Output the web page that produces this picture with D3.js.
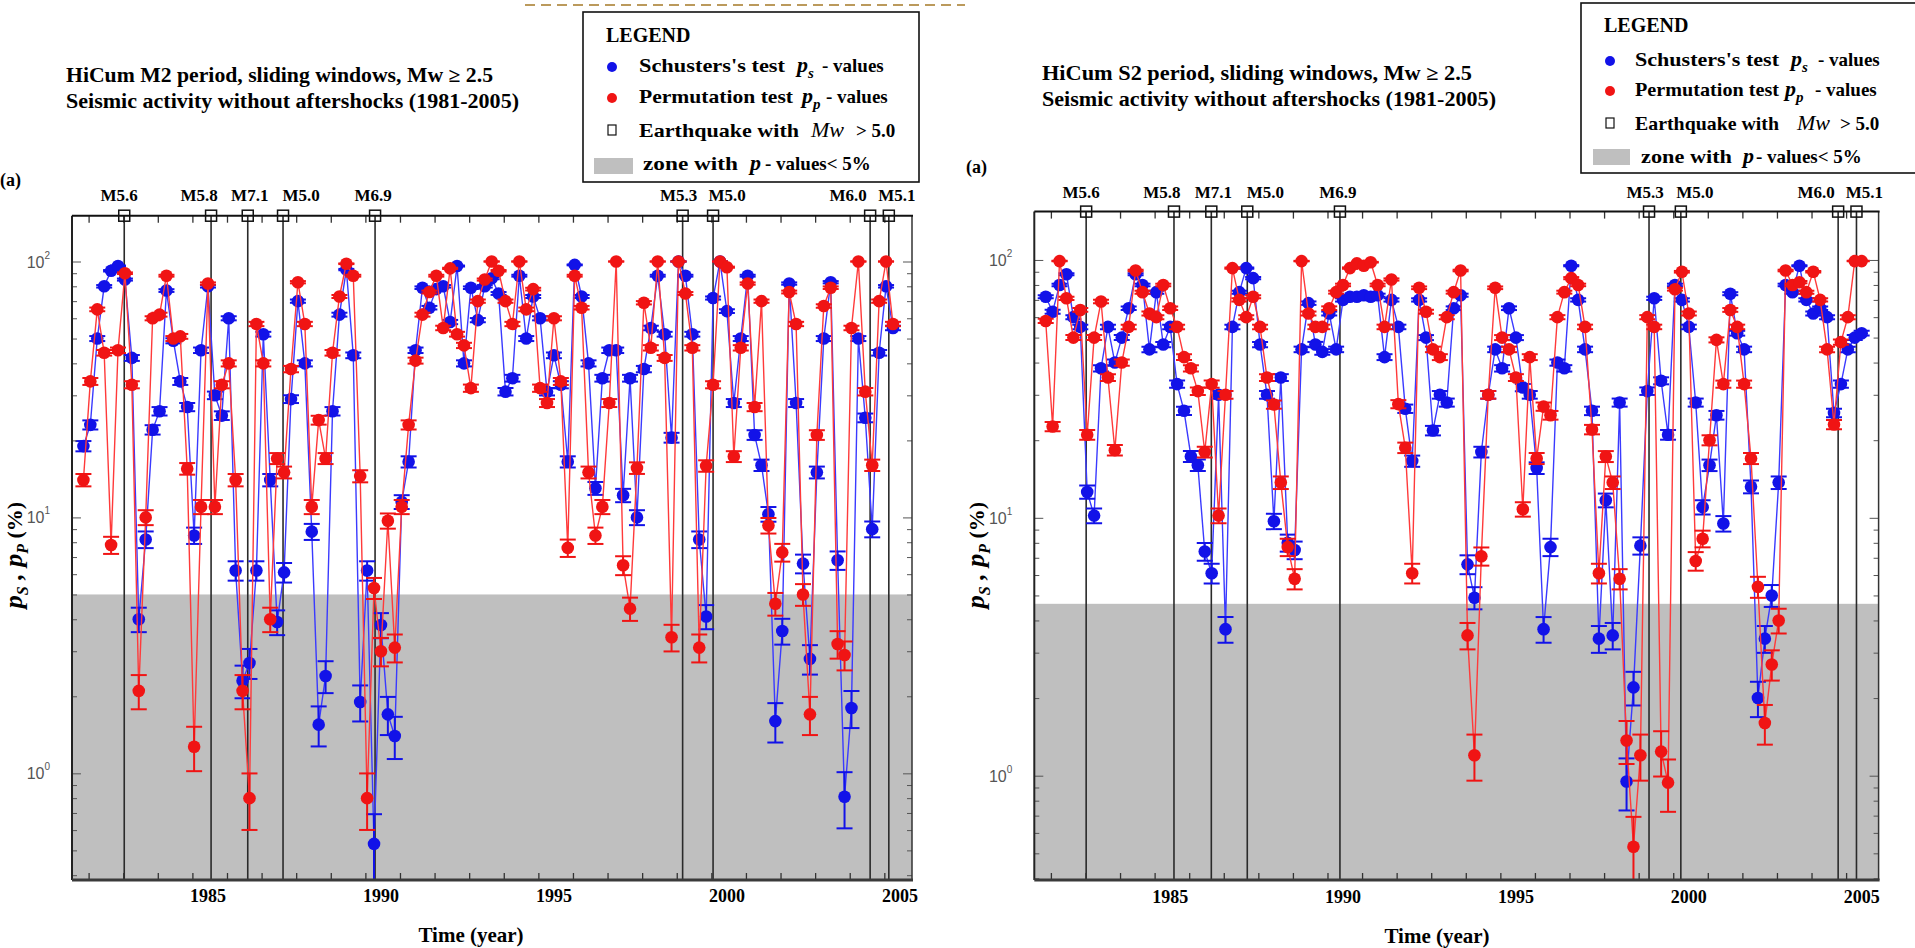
<!DOCTYPE html>
<html>
<head>
<meta charset="utf-8">
<script src="https://cdn.jsdelivr.net/npm/d3@7"></script>
<style>
  body { margin: 0; background: #fff; }
  svg { display: block; }
  .serif { font-family: "Liberation Serif", "Times New Roman", serif; font-weight: bold; }
  .sans { font-family: "Liberation Sans", Arial, sans-serif; }
</style>
</head>
<body>
<svg id="chart" width="1915" height="948"></svg>
<script>
// ---------------------------------------------------------------- DATA
// centre of each sliding window (year)
const windowYears = [
  1981.4,1981.6,1981.8,1982.0,1982.2,1982.4,1982.6,1982.8,1983.0,1983.2,1983.4,1983.6,1983.8,1984.0,1984.2,1984.4,1984.6,1984.8,
  1985.0,1985.2,1985.4,1985.6,1985.8,1986.0,1986.2,1986.4,1986.6,1986.8,1987.0,1987.2,1987.4,1987.6,1987.8,1988.0,1988.2,1988.4,
  1988.6,1988.8,1989.0,1989.2,1989.4,1989.6,1989.8,1990.0,1990.2,1990.4,1990.6,1990.8,1991.0,1991.2,1991.4,1991.6,1991.8,1992.0,
  1992.2,1992.4,1992.6,1992.8,1993.0,1993.2,1993.4,1993.6,1993.8,1994.0,1994.2,1994.4,1994.6,1994.8,1995.0,1995.2,1995.4,1995.6,
  1995.8,1996.0,1996.2,1996.4,1996.6,1996.8,1997.0,1997.2,1997.4,1997.6,1997.8,1998.0,1998.2,1998.4,1998.6,1998.8,1999.0,1999.2,
  1999.4,1999.6,1999.8,2000.0,2000.2,2000.4,2000.6,2000.8,2001.0,2001.2,2001.4,2001.6,2001.8,2002.0,2002.2,2002.4,2002.6,2002.8,
  2003.0,2003.2,2003.4,2003.6,2003.8,2004.0,2004.2,2004.4,2004.6,2004.8,2005.0
];

// HiCum M2 period (%)
const m2Schuster = [
  19,23,50,80,92,96,85,42,4.0,8.2,22,26,77,49,34,27,8.5,45,
  80,30,25,60,6.2,2.3,2.7,6.2,52,14,3.9,6.1,29,70,40,8.8,1.55,2.4,
  26,62,93,43,1.9,6.2,0.53,3.8,1.7,1.4,11.5,16.5,45,79,66,78,80,58,
  96,40,79,59,80,86,75,31,35,88,50,73,60,31,43,33,16.5,97,
  73,40,13,35,45,45,12.2,35,10,38,55,88,52,20.5,100,88,52,8.2,
  4.1,72,100,64,28,50,88,21,16,10.3,1.6,3.6,82,28,6.6,2.8,15,50,
  83,6.8,0.81,1.8,50,24.5,9,44,80,55
];
const m2Permutation = [
  14,34,65,44,7.8,45,90,33,2.1,10,60,62,88,50,51,15.5,1.27,11,
  82,11,33,40,14,2.1,0.8,57,40,4.0,17,15,38,83,57,11,24,17,
  44,73,98,88,14.5,0.8,5.3,3.0,9.7,3.1,11,23,41,62,76,88,55,94,
  52,47,32,70,85,100,92,70,57,100,65,78,32,28,60,34,7.6,88,
  66,15,8.5,11,28,100,6.5,4.4,15.6,69,46,100,42,3.4,100,75,46,3.1,
  15.9,33,100,95,17.3,46,82,27,70,9.3,4.6,7.3,76,57,5,1.7,21,67,
  79,3.2,2.9,55,100,31,16,70,100,57
];

// HiCum S2 period (%)
const s2Schuster = [
  72,63,80,88,60,55,12.6,10.2,38,55,40,50,65,88,80,45,75,47,
  55,33,26,17.3,16,7.4,6.1,30,3.7,55,75,93,85,47,30,9.7,35,8,
  7.5,45,68,47,44,62,45,70,72,72,73,72,73,42,70,55,26.5,16.6,
  70,50,21.8,30,28,65,73,6.6,4.9,18,30,45,38,65,50,32,30,15.6,
  3.7,7.7,40,38,95,70,45,26,3.4,11.7,3.5,28,0.95,2.2,7.8,31,71,34,
  21,80,70,55,28,11,16,25,9.5,74,52,45,13.2,2.0,3.4,5.0,13.7,80,
  75,95,70,62,65,60,25.5,33,45,50,52
];
const s2Permutation = [
  58,22.6,99,71,50,64,21,50,69,35,18.3,40,55,91,75,62,60,80,
  65,55,42,38,31,18,33,10.2,30,93,70,60,72,55,35,27.5,13.7,7.7,
  5.8,99,62,55,55,65,75,80,93,97,95,98,80,55,84,27.6,18.7,6.1,
  78,63,45,42,60,75,91,3.5,1.2,7.1,30,78,50,45,35,10.8,42,17,
  27,25,60,75,85,80,55,22,6.1,17.3,13.7,5.8,1.37,0.53,1.2,60,55,1.24,
  0.94,77,90,62,6.8,8.3,20,49,33,64,55,33,17,5.4,1.6,2.7,4.0,91,
  80,82,75,90,70,45,23,48,60,99,99
];

// earthquakes with Mw > 5.0
const quakeLabels = ["M5.6", "M5.8", "M7.1", "M5.0", "M6.9", "M5.3", "M5.0", "M6.0", "M5.1"];
const m2QuakeYears = [1982.58, 1985.09, 1986.15, 1987.17, 1989.83, 1998.72, 1999.60, 2004.14, 2004.68];
const s2QuakeYears = [1982.57, 1985.11, 1986.19, 1987.23, 1989.91, 1998.85, 1999.77, 2004.32, 2004.85];

const yearLabels = [1985, 1990, 1995, 2000, 2005];
const decadeLabels = [1, 10, 100];
const simulations = 2000;   // number of random trials behind each p-value (error bars)

// ---------------------------------------------------------------- LAYOUT
const labelNudge = [-5, -12, 2, 18, -2, -4, 14, -22, 8];
const blue = "#1212e8", red = "#f01414";
const svg = d3.select("#chart");

const panels = [
  {
    schuster: m2Schuster, perm: m2Permutation, quakes: m2QuakeYears, sig: 5,
    left: 72, right: 912, top: 215.7, bottom: 880,
    xDomain: [1981.07, 2005.35], yDomain: [0.383, 151],
    title: ["HiCum M2 period, sliding windows, Mw \u2265 2.5", "Seismic activity without aftershocks (1981-2005)"],
    titleX: 66, titleY: [82, 108], titleW: [427, 453],
    tagX: 0, tagY: 186, quakeLabelY: 201, yTitleX: 22, yearY: 902, xTitleX: 471, xTitleY: 942,
    legend: {
      box: [583, 12, 336, 170], head: [606, 42],
      rows: [72, 103, 137, 170], mark: 612,
      text: 639, textW: [146, 154, 160], sym: [797, 802, 811], symEnd: [822, 826, 856],
      zone: [594, 158, 39, 16], zoneText: 643, zoneW: 95, zoneP: 750, zoneTail: 765
    }
  },
  {
    schuster: s2Schuster, perm: s2Permutation, quakes: s2QuakeYears, sig: 4.64,
    left: 1034.3, right: 1878.6, top: 211.6, bottom: 880,
    xDomain: [1981.07, 2005.49], yDomain: [0.394, 154],
    title: ["HiCum  S2 period, sliding windows, Mw \u2265 2.5", "Seismic activity without aftershocks (1981-2005)"],
    titleX: 1042, titleY: [80, 106], titleW: [430, 454],
    tagX: 966, tagY: 173, quakeLabelY: 198, yTitleX: 984, yearY: 903, xTitleX: 1437, xTitleY: 943,
    legend: {
      box: [1581, 3, 345, 170], head: [1604, 32],
      rows: [66, 96, 130, 163], mark: 1610,
      text: 1635, textW: [144, 144, 144], sym: [1791, 1785, 1797], symEnd: [1818, 1815, 1840],
      zone: [1593, 149, 37, 16], zoneText: 1641, zoneW: 91, zoneP: 1743, zoneTail: 1756
    }
  }
];

// dashed rule at the very top of the page
svg.append("line")
  .attr("x1", 525).attr("x2", 965).attr("y1", 5).attr("y2", 5)
  .attr("stroke", "#bb9a5c").attr("stroke-width", 2).attr("stroke-dasharray", "10,6");

panels.forEach((p, i) => drawPanel(p, i));

// ---------------------------------------------------------------- PANEL
function drawPanel(p, idx) {
  const x = d3.scaleLinear().domain(p.xDomain).range([p.left, p.right]);
  const y = d3.scaleLog().domain(p.yDomain).range([p.bottom, p.top]);
  const g = svg.append("g");

  // zone with p-values < 5%
  g.append("rect")
    .attr("x", p.left).attr("y", y(p.sig))
    .attr("width", p.right - p.left).attr("height", p.bottom - y(p.sig))
    .attr("fill", "#bfbfbf");

  g.append("clipPath").attr("id", "clip" + idx)
    .append("rect")
    .attr("x", p.left).attr("y", p.top)
    .attr("width", p.right - p.left).attr("height", p.bottom - p.top);

  // earthquake lines
  g.append("g").selectAll("line")
    .data(p.quakes)
    .join("line")
    .attr("x1", d => x(d)).attr("x2", d => x(d))
    .attr("y1", p.top).attr("y2", p.bottom)
    .attr("stroke", "#2a2a2a").attr("stroke-width", 1.6);

  const plot = g.append("g").attr("clip-path", `url(#clip${idx})`);
  drawSeries(plot, p.schuster, x, y, blue, "#3a3aff");
  drawSeries(plot, p.perm, x, y, red, "#ff3a3a");

  // inward year ticks on top and bottom
  const tickYears = d3.range(1981.55, p.xDomain[1], 1);
  g.append("g").attr("transform", `translate(0,${p.bottom})`)
    .call(d3.axisBottom(x).tickValues(tickYears).tickSize(-7).tickFormat(""))
    .call(a => a.select(".domain").remove())
    .call(a => a.selectAll("line").attr("stroke", "#333").attr("stroke-width", 1.3));
  g.append("g").attr("transform", `translate(0,${p.top})`)
    .call(d3.axisTop(x).tickValues(tickYears).tickSize(-7).tickFormat(""))
    .call(a => a.select(".domain").remove())
    .call(a => a.selectAll("line").attr("stroke", "#333").attr("stroke-width", 1.3));

  // log ticks on both sides
  const minor = [];
  [-1, 0, 1, 2].forEach(e => d3.range(2, 10).forEach(k => {
    const v = k * Math.pow(10, e);
    if (v > p.yDomain[0] && v < p.yDomain[1]) minor.push(v);
  }));
  [[d3.axisRight, p.left], [d3.axisLeft, p.right]].forEach(([ax, pos]) => {
    g.append("g").attr("transform", `translate(${pos},0)`)
      .call(ax(y).tickValues(minor).tickSize(5).tickFormat(""))
      .call(a => a.select(".domain").remove())
      .call(a => a.selectAll("line").attr("stroke", "#555"));
    g.append("g").attr("transform", `translate(${pos},0)`)
      .call(ax(y).tickValues(decadeLabels).tickSize(9).tickFormat(""))
      .call(a => a.select(".domain").remove())
      .call(a => a.selectAll("line").attr("stroke", "#555"));
  });

  // frame
  g.append("line").attr("x1", p.right).attr("x2", p.right).attr("y1", p.top).attr("y2", p.bottom)
    .attr("stroke", "#333").attr("stroke-width", 1.5);
  g.append("line").attr("x1", p.left).attr("x2", p.left).attr("y1", p.top).attr("y2", p.bottom)
    .attr("stroke", "#222").attr("stroke-width", 2);
  g.append("line").attr("x1", p.left).attr("x2", p.right + 1).attr("y1", p.top).attr("y2", p.top)
    .attr("stroke", "#111").attr("stroke-width", 2);
  g.append("line").attr("x1", p.left).attr("x2", p.right + 1).attr("y1", p.bottom).attr("y2", p.bottom)
    .attr("stroke", "#3a3a3a").attr("stroke-width", 3);

  // earthquake squares and labels
  g.append("g").selectAll("rect")
    .data(p.quakes)
    .join("rect")
    .attr("x", d => x(d) - 5.5).attr("y", p.top - 5.5)
    .attr("width", 11).attr("height", 11)
    .attr("fill", "none").attr("stroke", "#111").attr("stroke-width", 1.5);
  g.append("g").selectAll("text")
    .data(p.quakes)
    .join("text")
    .attr("class", "serif")
    .attr("x", (d, i) => x(d) + labelNudge[i]).attr("y", p.quakeLabelY)
    .attr("text-anchor", "middle")
    .style("font-size", "17px")
    .text((d, i) => quakeLabels[i]);

  // y tick labels 10^n
  const sup = { 1: "0", 10: "1", 100: "2" };
  decadeLabels.forEach(v => {
    const t = g.append("text").attr("class", "sans")
      .attr("x", p.left - 22).attr("y", y(v) + 6)
      .attr("text-anchor", "end").attr("fill", "#555")
      .style("font-size", "16px").text("10");
    t.append("tspan").attr("dy", -9).style("font-size", "10px").text(sup[v]);
  });

  // year labels
  g.append("g").selectAll("text")
    .data(yearLabels)
    .join("text")
    .attr("class", "serif")
    .attr("x", d => x(d)).attr("y", p.yearY)
    .attr("text-anchor", "middle")
    .style("font-size", "18px")
    .text(d => d);

  g.append("text").attr("class", "serif")
    .attr("x", p.xTitleX).attr("y", p.xTitleY)
    .attr("text-anchor", "middle").style("font-size", "21px")
    .text("Time (year)");

  // y title  p_S , p_P (%)
  const yt = g.append("text").attr("class", "serif")
    .attr("transform", `translate(${p.yTitleX},555) rotate(-90)`)
    .attr("text-anchor", "middle").style("font-size", "26px").style("font-style", "italic");
  yt.append("tspan").text("p");
  yt.append("tspan").attr("dy", 6).style("font-size", "16px").text("S");
  yt.append("tspan").attr("dy", -6).text(" ,  p");
  yt.append("tspan").attr("dy", 6).style("font-size", "16px").text("P");
  yt.append("tspan").attr("dy", -6).style("font-style", "normal").style("font-size", "22px").text("   (%)");

  // titles
  p.title.forEach((t, i) => {
    g.append("text").attr("class", "serif")
      .attr("x", p.titleX).attr("y", p.titleY[i])
      .attr("textLength", p.titleW[i]).attr("lengthAdjust", "spacingAndGlyphs")
      .style("font-size", "20px").text(t);
  });
  g.append("text").attr("class", "serif")
    .attr("x", p.tagX).attr("y", p.tagY).style("font-size", "18px").text("(a)");

  drawLegend(g, p.legend);
}

function drawSeries(g, values, x, y, fill, stroke) {
  const pts = windowYears.map((t, i) => ({ t, v: values[i] })).filter(d => d.v != null);
  const err = d => 100 * Math.sqrt((d.v / 100) * (1 - Math.min(d.v, 99.9) / 100) / simulations);
  const lo = d => Math.max(d.v - err(d), 0.2);
  const hi = d => d.v + err(d);

  g.append("path")
    .datum(pts)
    .attr("d", d3.line().x(d => x(d.t)).y(d => y(d.v)))
    .attr("fill", "none").attr("stroke", stroke).attr("stroke-width", 1.4);

  const bars = g.append("g").attr("stroke", fill).attr("stroke-width", 2);
  bars.selectAll("line.bar").data(pts).join("line").attr("class", "bar")
    .attr("x1", d => x(d.t)).attr("x2", d => x(d.t))
    .attr("y1", d => y(lo(d))).attr("y2", d => y(hi(d)));
  bars.selectAll("line.capLo").data(pts).join("line").attr("class", "capLo")
    .attr("x1", d => x(d.t) - 8).attr("x2", d => x(d.t) + 8)
    .attr("y1", d => y(lo(d))).attr("y2", d => y(lo(d)));
  bars.selectAll("line.capHi").data(pts).join("line").attr("class", "capHi")
    .attr("x1", d => x(d.t) - 8).attr("x2", d => x(d.t) + 8)
    .attr("y1", d => y(hi(d))).attr("y2", d => y(hi(d)));

  g.append("g").selectAll("circle")
    .data(pts)
    .join("circle")
    .attr("cx", d => x(d.t)).attr("cy", d => y(d.v))
    .attr("r", 6.3).attr("fill", fill);
}

function drawLegend(g, L) {
  g.append("rect")
    .attr("x", L.box[0]).attr("y", L.box[1]).attr("width", L.box[2]).attr("height", L.box[3])
    .attr("fill", "#fff").attr("stroke", "#111").attr("stroke-width", 1.6);
  g.append("text").attr("class", "serif").attr("x", L.head[0]).attr("y", L.head[1])
    .style("font-size", "20px").text("LEGEND");

  const labels = ["Schusters's test", "Permutation test", "Earthquake with"];
  const subs = ["s", "p"];
  labels.forEach((lab, i) => {
    const by = L.rows[i];
    if (i < 2) {
      g.append("circle").attr("cx", L.mark).attr("cy", by - 5).attr("r", 5)
        .attr("fill", i === 0 ? blue : red);
    } else {
      g.append("rect").attr("x", L.mark - 4).attr("y", by - 12).attr("width", 8).attr("height", 10)
        .attr("fill", "none").attr("stroke", "#111").attr("stroke-width", 1.2);
    }
    g.append("text").attr("class", "serif").attr("x", L.text).attr("y", by)
      .attr("textLength", L.textW[i]).attr("lengthAdjust", "spacingAndGlyphs")
      .style("font-size", "19px").text(lab);
    const s = g.append("text").attr("class", "serif").attr("x", L.sym[i]).attr("y", by)
      .style("font-size", "22px").style("font-style", "italic");
    if (i < 2) {
      s.append("tspan").text("p");
      s.append("tspan").attr("dy", 6).style("font-size", "15px").text(subs[i]);
    } else {
      s.style("font-weight", "normal").text("Mw");
    }
    g.append("text").attr("class", "serif").attr("x", L.symEnd[i]).attr("y", by)
      .style("font-size", "19px").text(i < 2 ? "- values" : "> 5.0");
  });

  g.append("rect").attr("x", L.zone[0]).attr("y", L.zone[1]).attr("width", L.zone[2]).attr("height", L.zone[3])
    .attr("fill", "#bfbfbf");
  const zy = L.rows[3];
  g.append("text").attr("class", "serif").attr("x", L.zoneText).attr("y", zy)
    .attr("textLength", L.zoneW).attr("lengthAdjust", "spacingAndGlyphs")
    .style("font-size", "19px").text("zone with");
  g.append("text").attr("class", "serif").attr("x", L.zoneP).attr("y", zy)
    .style("font-size", "22px").style("font-style", "italic").text("p");
  g.append("text").attr("class", "serif").attr("x", L.zoneTail).attr("y", zy)
    .style("font-size", "19px").text("- values< 5%");
}
</script>
</body>
</html>
